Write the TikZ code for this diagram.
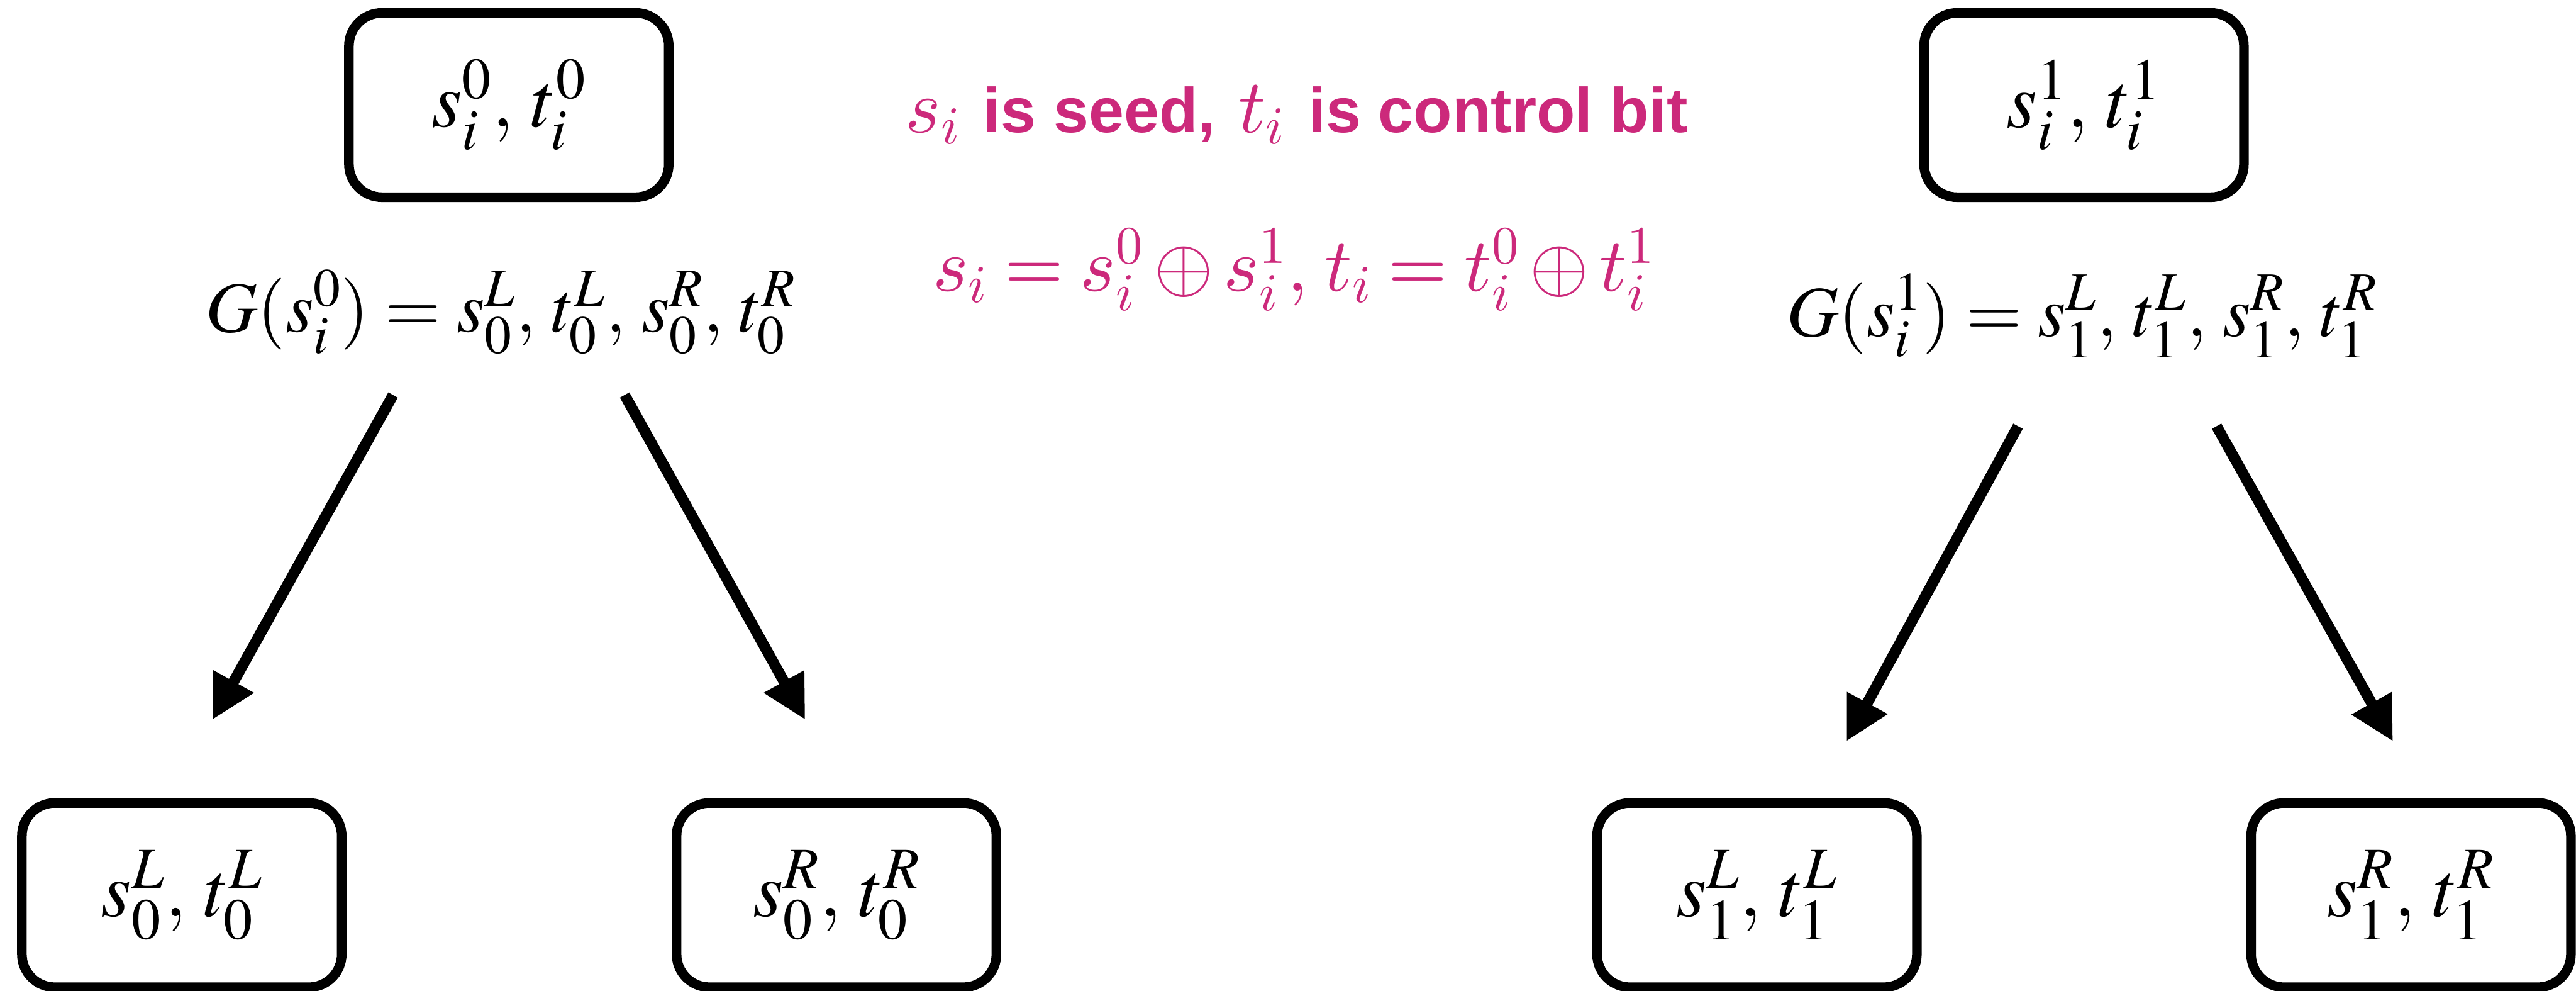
\documentclass[tikz,border=0pt]{standalone}
\usepackage{fontspec}
\usepackage{mathptmx}
\usepackage{tikz}
\usetikzlibrary{arrows.meta,positioning}
\newfontfamily\labelsans{Liberation Sans}
\definecolor{seedpink}{RGB}{204,41,123}
% scalable Computer Modern math for the pink notes
\DeclareFontFamily{OML}{cmmbig}{\skewchar\font=127}
\DeclareFontShape{OML}{cmmbig}{m}{it}{<-> cmmi10}{}
\DeclareFontFamily{OMS}{cmsybig}{\skewchar\font=48}
\DeclareFontShape{OMS}{cmsybig}{m}{n}{<-> cmsy10}{}
\DeclareFontFamily{OT1}{cmrbig}{\hyphenchar\font=45}
\DeclareFontShape{OT1}{cmrbig}{m}{n}{<-> cmr10}{}
\DeclareFontFamily{OMX}{cmexbig}{}
\DeclareFontShape{OMX}{cmexbig}{m}{n}{<-> cmex10}{}
\DeclareMathVersion{cmv}
\SetSymbolFont{operators}{cmv}{OT1}{cmrbig}{m}{n}
\SetSymbolFont{letters}{cmv}{OML}{cmmbig}{m}{it}
\SetSymbolFont{symbols}{cmv}{OMS}{cmsybig}{m}{n}
\SetSymbolFont{largesymbols}{cmv}{OMX}{cmexbig}{m}{n}
% larger scripts for the black labels
\DeclareMathSizes{34}{34}{25.5}{19}
\DeclareMathSizes{37}{37}{27.5}{20}
\DeclareMathSizes{36}{36}{25.2}{18}

\begin{document}
\begin{tikzpicture}[
  keybox/.style={draw, line width=0.16cm, rounded corners=0.55cm,
    minimum width=5.33cm, minimum height=3.07cm, font=\fontsize{37}{44}\selectfont},
  expand/.style={font=\fontsize{34}{40}\selectfont},
  genarrow/.style={-{Triangle[length=0.73cm,width=0.72cm]}, line width=0.18cm},
  note/.style={text=seedpink, font=\mathversion{cmv}\fontsize{36}{42}\selectfont}
]
  \useasboundingbox (0,0) rectangle (42.93,16.50);
  % roots
  \node[keybox] (root0) at (8.48,14.75) {$s_i^0,\, t_i^0$};
  \node[keybox] (root1) at (34.73,14.75) {$s_i^1,\, t_i^1$};
  % expansions
  \node[expand, anchor=base] (gen0) at (8.35,10.97) {$G(s_i^0) = s_0^L,\, t_0^L,\, s_0^R,\, t_0^R$};
  \node[expand, anchor=base] (gen1) at (34.70,10.90) {$G(s_i^1) = s_1^L,\, t_1^L,\, s_1^R,\, t_1^R$};
  % children
  \node[keybox] (leaf0L) at (3.03,1.59) {$s_0^L,\, t_0^L$};
  \node[keybox] (leaf0R) at (13.94,1.59) {$s_0^R,\, t_0^R$};
  \node[keybox] (leaf1L) at (29.28,1.59) {$s_1^L,\, t_1^L$};
  \node[keybox] (leaf1R) at (40.18,1.59) {$s_1^R,\, t_1^R$};
  % notes
  \node[note, anchor=base] (legend) at (21.61,14.29)
    {$s_i$ {\fontsize{30}{36}\labelsans\bfseries is seed,} $t_i$ {\fontsize{30}{36}\labelsans\bfseries is control bit}};
  \node[note, anchor=base] (xorrule) at (21.56,11.65)
    {$s_i = s_i^0 \oplus s_i^1,\, t_i = t_i^0 \oplus t_i^1$};
  % arrows
  \coordinate (from0L) at (6.55,9.92);  \coordinate (to0L) at (3.54,4.51);
  \coordinate (from0R) at (10.41,9.92); \coordinate (to0R) at (13.42,4.51);
  \coordinate (from1L) at (33.63,9.40); \coordinate (to1L) at (30.77,4.15);
  \coordinate (from1R) at (36.94,9.40); \coordinate (to1R) at (39.88,4.15);
  \draw[genarrow] (from0L) -- (to0L);
  \draw[genarrow] (from0R) -- (to0R);
  \draw[genarrow] (from1L) -- (to1L);
  \draw[genarrow] (from1R) -- (to1R);
\end{tikzpicture}
\end{document}
